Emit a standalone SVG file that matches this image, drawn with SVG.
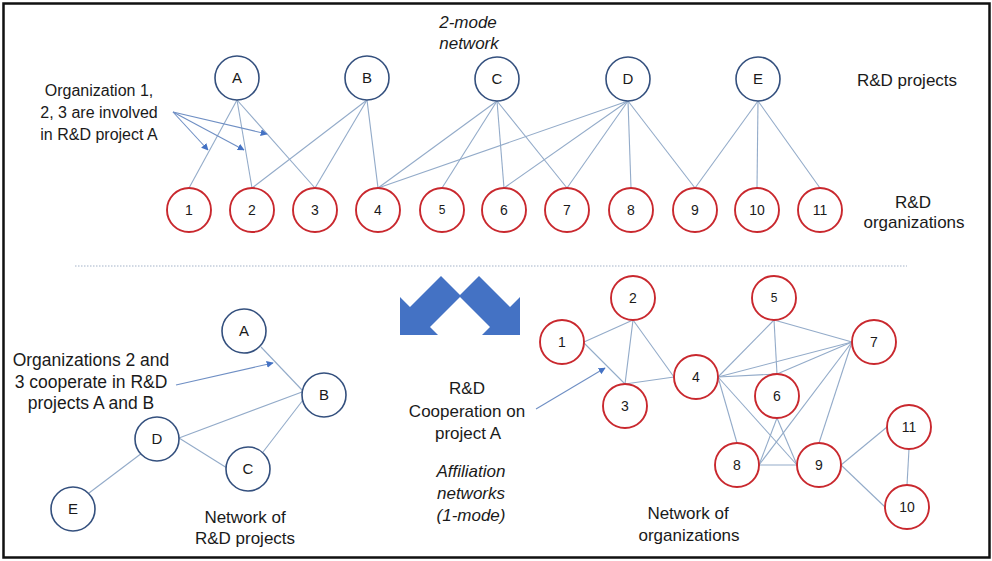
<svg xmlns="http://www.w3.org/2000/svg" width="992" height="561" viewBox="0 0 992 561">
<style>
text{font-family:"Liberation Sans",Arial,sans-serif;fill:#1a1a1a}
.lbl{font-size:17px;text-anchor:middle}
.it{font-style:italic}
.pj{fill:#fff;stroke:#34507e;stroke-width:1.6}
.org{fill:#fff;stroke:#c9282e;stroke-width:1.9}
.nl{font-size:15px;text-anchor:middle}
.nn{font-size:14px;text-anchor:middle}
.e{stroke:#93abc9;stroke-width:1.1;fill:none}
.ar{stroke:#6f8fc4;stroke-width:1.1;fill:none;marker-end:url(#ah)}
</style>
<defs>
<marker id="ah" viewBox="0 0 10 10" refX="9" refY="5" markerWidth="7" markerHeight="7" markerUnits="userSpaceOnUse" orient="auto">
<path d="M0,0 L10,5 L0,10 z" fill="#4472c4"/>
</marker>
</defs>
<rect x="0" y="0" width="992" height="561" fill="#fff"/>
<rect x="3.5" y="3.5" width="986" height="554" fill="none" stroke="#111" stroke-width="2.5"/>
<line x1="75" y1="266" x2="907" y2="266" stroke="#a3b2c8" stroke-width="1" stroke-dasharray="1.5 1.5"/>

<g id="connectors">
<line class="e" x1="237" y1="100" x2="189" y2="188"/>
<line class="e" x1="237" y1="100" x2="252" y2="188"/>
<line class="e" x1="237" y1="100" x2="315" y2="188"/>
<line class="e" x1="367" y1="100" x2="252" y2="188"/>
<line class="e" x1="367" y1="100" x2="315" y2="188"/>
<line class="e" x1="367" y1="100" x2="378" y2="188"/>
<line class="e" x1="497" y1="101" x2="378" y2="188"/>
<line class="e" x1="497" y1="101" x2="442" y2="188"/>
<line class="e" x1="497" y1="101" x2="504" y2="188"/>
<line class="e" x1="497" y1="101" x2="567" y2="188"/>
<line class="e" x1="628" y1="101" x2="378" y2="188"/>
<line class="e" x1="628" y1="101" x2="504" y2="188"/>
<line class="e" x1="628" y1="101" x2="567" y2="188"/>
<line class="e" x1="628" y1="101" x2="631" y2="188"/>
<line class="e" x1="628" y1="101" x2="695" y2="188"/>
<line class="e" x1="758" y1="101" x2="695" y2="188"/>
<line class="e" x1="758" y1="101" x2="757" y2="188"/>
<line class="e" x1="758" y1="101" x2="820" y2="188"/>
<line class="e" x1="261" y1="347" x2="302" y2="390"/>
<line class="e" x1="302" y1="392" x2="179" y2="438"/>
<line class="e" x1="303" y1="400" x2="263" y2="452"/>
<line class="e" x1="179" y1="438" x2="227" y2="468"/>
<line class="e" x1="142" y1="453" x2="89" y2="493"/>
<line class="e" x1="584" y1="342" x2="633" y2="320"/>
<line class="e" x1="584" y1="343" x2="625" y2="384"/>
<line class="e" x1="633" y1="320" x2="625" y2="384"/>
<line class="e" x1="633" y1="320" x2="674" y2="377"/>
<line class="e" x1="625" y1="384" x2="674" y2="377"/>
<line class="e" x1="718" y1="377" x2="774" y2="320"/>
<line class="e" x1="718" y1="377" x2="777" y2="374"/>
<line class="e" x1="718" y1="377" x2="852" y2="342"/>
<line class="e" x1="718" y1="377" x2="737" y2="443"/>
<line class="e" x1="718" y1="377" x2="797" y2="465"/>
<line class="e" x1="774" y1="320" x2="777" y2="374"/>
<line class="e" x1="774" y1="320" x2="852" y2="342"/>
<line class="e" x1="777" y1="374" x2="852" y2="342"/>
<line class="e" x1="777" y1="418" x2="759" y2="465"/>
<line class="e" x1="777" y1="418" x2="797" y2="465"/>
<line class="e" x1="852" y1="342" x2="759" y2="465"/>
<line class="e" x1="852" y1="342" x2="819" y2="443"/>
<line class="e" x1="759" y1="465" x2="797" y2="465"/>
<line class="e" x1="841" y1="465" x2="885" y2="507"/>
<line class="e" x1="841" y1="465" x2="887" y2="427"/>
<line class="e" x1="909" y1="449" x2="907" y2="485"/>
<line class="ar" x1="173" y1="112" x2="208" y2="150"/>
<line class="ar" x1="173" y1="112" x2="244" y2="150"/>
<line class="ar" x1="173" y1="112" x2="267" y2="134"/>
<line class="ar" x1="176" y1="385" x2="273" y2="363"/>
<line class="ar" x1="536" y1="409" x2="605" y2="368"/>
</g>

<g id="proj-A"><circle class="pj" cx="237" cy="78" r="22"/><text class="nl" x="237" y="83">A</text></g>
<g id="proj-B"><circle class="pj" cx="367" cy="78" r="22"/><text class="nl" x="367" y="83">B</text></g>
<g id="proj-C"><circle class="pj" cx="497" cy="79" r="22"/><text class="nl" x="497" y="84">C</text></g>
<g id="proj-D"><circle class="pj" cx="628" cy="79" r="22"/><text class="nl" x="628" y="84">D</text></g>
<g id="proj-E"><circle class="pj" cx="758" cy="79" r="22"/><text class="nl" x="758" y="84">E</text></g>

<g id="org-1"><circle class="org" cx="189" cy="210" r="22"/><text class="nn" x="189" y="215">1</text></g>
<g id="org-2"><circle class="org" cx="252" cy="210" r="22"/><text class="nn" x="252" y="215">2</text></g>
<g id="org-3"><circle class="org" cx="315" cy="210" r="22"/><text class="nn" x="315" y="215">3</text></g>
<g id="org-4"><circle class="org" cx="378" cy="210" r="22"/><text class="nn" x="378" y="215">4</text></g>
<g id="org-5"><circle class="org" cx="442" cy="210" r="22"/><text class="nn" x="442" y="214" style="font-size:12px">5</text></g>
<g id="org-6"><circle class="org" cx="504" cy="210" r="22"/><text class="nn" x="504" y="215">6</text></g>
<g id="org-7"><circle class="org" cx="567" cy="210" r="22"/><text class="nn" x="567" y="215">7</text></g>
<g id="org-8"><circle class="org" cx="631" cy="210" r="22"/><text class="nn" x="631" y="215">8</text></g>
<g id="org-9"><circle class="org" cx="695" cy="210" r="22"/><text class="nn" x="695" y="215">9</text></g>
<g id="org-10"><circle class="org" cx="757" cy="210" r="22"/><text class="nn" x="757" y="215">10</text></g>
<g id="org-11"><circle class="org" cx="820" cy="210" r="22"/><text class="nn" x="820" y="215">11</text></g>

<g id="pnet-A"><circle class="pj" cx="244" cy="331" r="22"/><text class="nl" x="244" y="336">A</text></g>
<g id="pnet-B"><circle class="pj" cx="324" cy="395" r="22"/><text class="nl" x="324" y="400">B</text></g>
<g id="pnet-C"><circle class="pj" cx="248" cy="469" r="22"/><text class="nl" x="248" y="474">C</text></g>
<g id="pnet-D"><circle class="pj" cx="157" cy="439" r="22"/><text class="nl" x="157" y="444">D</text></g>
<g id="pnet-E"><circle class="pj" cx="73" cy="509" r="22"/><text class="nl" x="73" y="514">E</text></g>

<g id="onet-1"><circle class="org" cx="562" cy="342" r="22"/><text class="nn" x="562" y="347">1</text></g>
<g id="onet-2"><circle class="org" cx="633" cy="298" r="22"/><text class="nn" x="633" y="303">2</text></g>
<g id="onet-3"><circle class="org" cx="625" cy="406" r="22"/><text class="nn" x="625" y="411">3</text></g>
<g id="onet-4"><circle class="org" cx="696" cy="377" r="22"/><text class="nn" x="696" y="382">4</text></g>
<g id="onet-5"><circle class="org" cx="774" cy="298" r="22"/><text class="nn" x="774" y="302" style="font-size:12px">5</text></g>
<g id="onet-6"><circle class="org" cx="777" cy="396" r="22"/><text class="nn" x="777" y="401">6</text></g>
<g id="onet-7"><circle class="org" cx="874" cy="342" r="22"/><text class="nn" x="874" y="347">7</text></g>
<g id="onet-8"><circle class="org" cx="737" cy="465" r="22"/><text class="nn" x="737" y="470">8</text></g>
<g id="onet-9"><circle class="org" cx="819" cy="465" r="22"/><text class="nn" x="819" y="470">9</text></g>
<g id="onet-10"><circle class="org" cx="907" cy="507" r="22"/><text class="nn" x="907" y="512">10</text></g>
<g id="onet-11"><circle class="org" cx="909" cy="427" r="22"/><text class="nn" x="909" y="432">11</text></g>

<g id="chevron" fill="#4472c4">
<polygon points="400,335 400,297 410,307 441,276 461,296 430,327 438,335"/>
<polygon points="520,335 520,297 510,307 479,276 459,296 490,327 482,335"/>
</g>

<g id="labels">
<text class="lbl" style="font-size:16px" x="99" y="96">Organization 1,</text>
<text class="lbl" style="font-size:16px" x="99" y="118">2, 3 are involved</text>
<text class="lbl" style="font-size:16px" x="99" y="140">in R&amp;D project A</text>
<text class="lbl it" x="468" y="28">2-mode</text>
<text class="lbl it" x="469" y="49">network</text>
<text class="lbl" x="907" y="86">R&amp;D projects</text>
<text class="lbl" x="913" y="208">R&amp;D</text>
<text class="lbl" x="914" y="228">organizations</text>
<text class="lbl" style="font-size:17.5px" x="91" y="366">Organizations 2 and</text>
<text class="lbl" style="font-size:17.5px" x="91" y="388">3 cooperate in R&amp;D</text>
<text class="lbl" style="font-size:17.5px" x="91" y="409">projects A and B</text>
<text class="lbl" x="245" y="523">Network of</text>
<text class="lbl" x="245" y="544">R&amp;D projects</text>
<text class="lbl" x="467" y="394">R&amp;D</text>
<text class="lbl" x="467" y="417">Cooperation on</text>
<text class="lbl" x="468" y="439">project A</text>
<text class="lbl it" x="471" y="477">Affiliation</text>
<text class="lbl it" x="471" y="499">networks</text>
<text class="lbl it" x="471" y="521">(1-mode)</text>
<text class="lbl" x="688" y="519">Network of</text>
<text class="lbl" x="689" y="541">organizations</text>
</g>
</svg>
